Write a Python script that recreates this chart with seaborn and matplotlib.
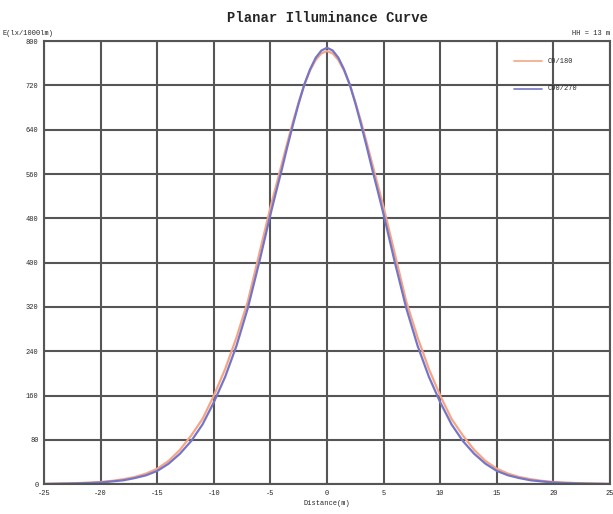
import numpy as np
import pandas as pd
import matplotlib
matplotlib.use("Agg")
import matplotlib.pyplot as plt
import seaborn as sns

# distance from luminaire axis (m), one side; curves are mirrored
dist_half = [0, 0.5, 1, 1.5, 2, 2.5, 3, 3.5, 4, 4.5, 5, 6, 7, 8, 9, 10, 11, 12,
             13, 14, 15, 16, 17, 18, 19, 20, 21, 22, 23, 24, 25]
c0_180_half = [782, 778, 766, 747, 722, 690, 655, 617, 578, 539, 500, 415, 330,
               265, 208, 160, 118, 88, 62, 42, 28, 19, 13, 9, 6, 4, 3, 2, 1.5,
               1, 0.5]
c90_270_half = [788, 783, 770, 749, 722, 688, 650, 610, 568, 528, 487, 400, 318,
                250, 194, 148, 108, 78, 55, 37, 24, 16, 11, 7, 5, 3, 2, 1.5, 1,
                0.7, 0.4]

x_ticks = [-25, -20, -15, -10, -5, 0, 5, 10, 15, 20, 25]
y_ticks = [0, 80, 160, 240, 320, 400, 480, 560, 640, 720, 800]
series_names = ["C0/180", "C90/270"]
series_colors = ["#f5a585", "#7575c8"]

dist = [-d for d in dist_half[::-1]] + dist_half[1:]
c0 = c0_180_half[::-1] + c0_180_half[1:]
c90 = c90_270_half[::-1] + c90_270_half[1:]

df = pd.concat([
    pd.DataFrame({"Distance": dist, "E": c0, "Curve": series_names[0]}),
    pd.DataFrame({"Distance": dist, "E": c90, "Curve": series_names[1]}),
])

sns.set_style("white")
plt.rcParams["font.family"] = ["Liberation Mono", "DejaVu Sans Mono"]

fig = plt.figure(figsize=(6.13, 5.14), dpi=100)
ax = fig.add_axes([0.072, 0.058, 0.923, 0.862])

sns.lineplot(data=df, x="Distance", y="E", hue="Curve", palette=series_colors,
             linewidth=1.6, ax=ax, legend=False)

ax.set_xlim(-25, 25)
ax.set_ylim(0, 800)
ax.set_xticks(x_ticks)
ax.set_yticks(y_ticks)
ax.set_xticklabels([str(t) for t in x_ticks], fontsize=5)
ax.set_yticklabels([str(t) for t in y_ticks], fontsize=5)
ax.tick_params(length=0, pad=4)
ax.grid(True, color="#555555", linewidth=1.5)
ax.set_axisbelow(True)
for s in ax.spines.values():
    s.set_color("#555555")
    s.set_linewidth(1.5)
ax.set_xlabel("Distance(m)", fontsize=5, labelpad=2)
ax.set_ylabel("")

fig.text(0.535, 0.965, "Planar Illuminance Curve", ha="center", va="center",
         fontsize=10, fontweight="bold")
fig.text(0.004, 0.935, "E(lx/1000lm)", ha="left", va="center", fontsize=5)
fig.text(0.995, 0.935, "HH = 13 m", ha="right", va="center", fontsize=5)

# legend entries drawn as small line + text in the upper right
for i, (name, col) in enumerate(zip(series_names, series_colors)):
    ypos = 0.955 - i * 0.062
    ax.plot([0.83, 0.88], [ypos, ypos], transform=ax.transAxes, color=col,
            linewidth=1.2)
    ax.text(0.89, ypos, name, transform=ax.transAxes, fontsize=5,
            va="center", ha="left")

fig.savefig("out.png", dpi=100, facecolor="white")
